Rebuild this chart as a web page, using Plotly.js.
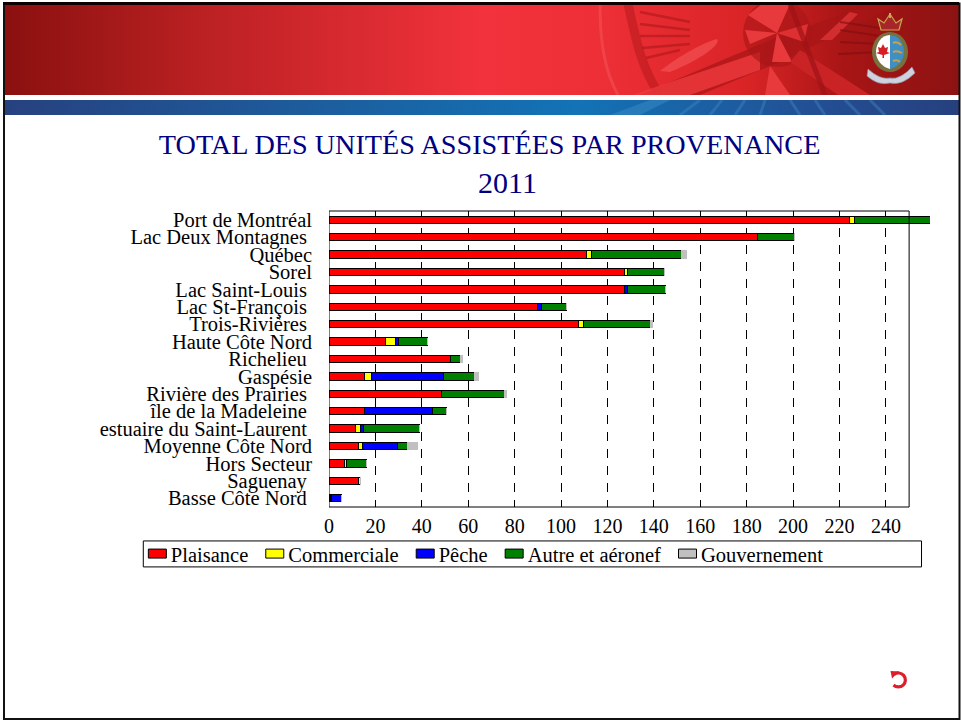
<!DOCTYPE html>
<html lang="fr">
<head>
<meta charset="utf-8">
<script src="https://cdn.plot.ly/plotly-3.0.1.min.js"></script>
<style>
html,body{margin:0;padding:0;background:#fff;width:961px;height:721px;overflow:hidden}
#deco{position:absolute;left:0;top:0}
#chart{position:absolute;left:0;top:0;width:961px;height:721px}
</style>
</head>
<body>
<svg id="deco" width="961" height="721" viewBox="0 0 961 721">
  <defs>
    <linearGradient id="red" x1="0" x2="1" y1="0" y2="0">
      <stop offset="0" stop-color="#8a100f"/><stop offset="0.2" stop-color="#b92022"/>
      <stop offset="0.5" stop-color="#f2323c"/><stop offset="0.62" stop-color="#ee2f37"/>
      <stop offset="0.78" stop-color="#d92426"/><stop offset="0.88" stop-color="#a81515"/><stop offset="1" stop-color="#8c1212"/>
    </linearGradient>
    <linearGradient id="blue" x1="0" x2="1" y1="0" y2="0">
      <stop offset="0" stop-color="#27417f"/><stop offset="0.35" stop-color="#1c5f9f"/>
      <stop offset="0.6" stop-color="#1273b6"/><stop offset="0.85" stop-color="#234f94"/><stop offset="1" stop-color="#26407e"/>
    </linearGradient>
    <clipPath id="rc"><rect x="4" y="4" width="955" height="91"/></clipPath>
    <clipPath id="bc"><rect x="4" y="100" width="955" height="15"/></clipPath>
  </defs>
  <rect x="4" y="4" width="955" height="91" fill="url(#red)"/>
  <g clip-path="url(#rc)">
    <path d="M628 4C636 40 642 70 660 95" fill="none" stroke="#b51a1c" stroke-opacity=".55" stroke-width="9"/>
    <path d="M600 4C600 40 604 70 618 95" fill="none" stroke="#f8686c" stroke-opacity=".35" stroke-width="3"/>
    <path d="M640 12L690 22M640 24L690 30M640 36L690 36M642 48L690 44M646 58L680 50" stroke="#a81618" stroke-opacity=".55" stroke-width="2.5"/>
    <path d="M640 95L770 40L870 4L900 4L780 62L700 95Z" fill="#a81517" fill-opacity=".7"/>
    <path d="M660 71C680 55 705 42 717 39C722 44 700 60 670 72Z" fill="#ef4a4c" fill-opacity=".85"/>
    <path d="M632 95L760 52L760 70L690 95Z" fill="#ee3a3d" fill-opacity=".8"/>
    <circle cx="777" cy="33" r="34" fill="#a81517" fill-opacity=".6"/>
    <path d="M777 33L748 15L762 4L790 4Z" fill="#e83a3d"/>
    <path d="M777 33L745 30L750 44Z" fill="#e83a3d"/>
    <path d="M777 33L792 62L772 62Z" fill="#e83a3d"/>
    <path d="M777 33L808 24L804 42Z" fill="#de3033"/>
    <path d="M770 66L790 95L765 95Z" fill="#e83a3d"/>
    <path d="M820 40L850 12L858 14L832 40Z" fill="#dc3336" fill-opacity=".8"/>
    <path d="M800 50L870 95L838 95L790 62Z" fill="#c92326"/>
    <path d="M790 4L800 30L825 95" fill="none" stroke="#9e1315" stroke-width="5" stroke-opacity=".7"/>
    <path d="M840 30L880 36M840 42L880 44M838 54L880 52M840 22L880 28" stroke="#7e0e10" stroke-opacity=".6" stroke-width="2"/>
  </g>
  <rect x="4" y="95" width="955" height="5" fill="#fff"/>
  <rect x="4" y="100" width="955" height="15" fill="url(#blue)"/>
  <g clip-path="url(#bc)" stroke="#3d84bd" stroke-opacity=".45" fill="none">
    <path d="M610 115L650 100L670 100L640 115Z" fill="#3a8bc6" fill-opacity=".5" stroke="none"/>
    <path d="M680 115L700 100M710 115L722 100M735 115L745 100M760 115L765 100M790 100L800 115M815 100L825 115M845 100L860 115M870 100L885 115" stroke-width="3"/>
  </g>
  <!-- armoiries -->
  <g transform="translate(890,52)">
    <path d="M-9-22H9L12-33L6-29L0-38L-6-29L-12-33Z" fill="#a8252a" stroke="#c8a850" stroke-width="1.2"/>
    <rect x="-1" y="-39" width="2" height="5" fill="#c8a850"/>
    <ellipse cx="0" cy="0" rx="18" ry="20" fill="#77703f"/>
    <path d="M0-17C-9-17-14-8-14 0C-14 8-8 15 0 17Z" fill="#fff"/>
    <path d="M0-17C9-17 14-8 14 0C14 8 8 15 0 17Z" fill="#3f8fc4"/>
    <path d="M-7-7L-5-3L-2-4L-3 1L0 2L-3 3L-6 4V7H-7.5V4L-11 3L-14 2L-11 1L-12-4L-9-3Z" transform="translate(0,-1)" fill="#d41f26"/>
    <path d="M3-9Q7-11 11-7M3 0Q7-2 12 1M3 9Q7 7 10 10" stroke="#c9a24a" stroke-width="2" fill="none"/>
    <path d="M-22 17Q-10 28 0 26Q10 28 22 15L25 21Q12 34 0 31Q-12 34-23 24Z" fill="#cfd2dc" stroke="#8b8fa6" stroke-width=".7"/>
  </g>
  <path d="M894 674.5A7 7 0 1 1 893.5 685" fill="none" stroke="#dc1f2b" stroke-width="3.2"/>
  <path d="M890.5 671L899 671.5L892 678.5Z" fill="#dc1f2b"/>
  <!-- cadre -->
  <path d="M4 3.5H959.5V719H4Z" fill="none" stroke="#111" stroke-width="2"/>
  <rect x="3" y="2" width="956" height="3" fill="#0c0000"/>
</svg>
<div id="chart"></div>
<script>
// Catégories de provenance (de haut en bas)
const categories = ["Port de Montréal","Lac Deux Montagnes\u00a0","Québec","Sorel","Lac Saint-Louis\u00a0","Lac St-François\u00a0","Trois-Rivières\u00a0","Haute Côte Nord","Richelieu\u00a0","Gaspésie","Rivière des Prairies\u00a0","île de la Madeleine\u00a0","estuaire du Saint-Laurent\u00a0","Moyenne Côte Nord","Hors Secteur","Saguenay\u00a0","Basse Côte Nord\u00a0"];
const plaisance    = [224.5,184.5,111,127.5,127.5,90,107.5,24.5,52.5,15.5,48.5,15.5,11.5,12.5,6.5,12.5,0.5];
const commerciale  = [2,0,2,1,0,0,2,4,0,3,0,0,2,2,1,1,0.5];
const peche        = [0,0,0,0,1,1.5,0,1.5,0,31,0,29,1.5,15,0,0,4.5];
const autre        = [32.5,16,39,16,16.5,11,29,12.5,4,13,27,6,24,4.5,8.5,0,0];
const gouvernement = [0,0,2,0,0,0,1,0,1,2,1,0,0,4,0,0,0];
const tickValues = [0,20,40,60,80,100,120,140,160,180,200,220,240];

const seriesNames = ["Plaisance","Commerciale","Pêche","Autre et aéronef","Gouvernement"];
const seriesValues = [plaisance,commerciale,peche,autre,gouvernement];
const seriesColors = ["#ff0000","#ffff00","#0000ff","#008000","#c0c0c0"];

const traces = seriesNames.map((name,i)=>({
  type:"bar", orientation:"h", name, y:categories, x:seriesValues[i],
  width:0.42, hoverinfo:"x+name",
  marker:{color:seriesColors[i], line:{color:i===4?"#c0c0c0":"#000000", width:1}}
}));

const serif = "'Liberation Serif','Times New Roman',serif";
const layout = {
  width:961, height:721, paper_bgcolor:"rgba(0,0,0,0)", plot_bgcolor:"rgba(0,0,0,0)",
  barmode:"stack", bargap:0.58, showlegend:true,
  margin:{l:328.5,r:30.5,t:210.5,b:214,pad:0},
  font:{family:serif,size:20,color:"#000"},
  title:{text:"TOTAL DES UNITÉS ASSISTÉES PAR PROVENANCE",
    font:{family:serif,size:28.2,color:"#000080"},x:0.5095,xanchor:"center",y:0.8,yanchor:"middle"},
  annotations:[{text:"2011",xref:"paper",yref:"paper",x:0.2965,y:1.096,xanchor:"center",yanchor:"middle",
    showarrow:false,font:{family:serif,size:30,color:"#000080"}}],
  xaxis:{range:[0,259],tickvals:tickValues,ticks:"",showline:false,
    showgrid:true,gridcolor:"#000",gridwidth:1,griddash:"9px,8px",zeroline:false,
    tickfont:{family:serif,size:20},ticklabelstandoff:5},
  yaxis:{autorange:"reversed",type:"category",dtick:1,ticks:"",showline:false,
    showgrid:false,automargin:false,tickfont:{family:serif,size:20.5},ticklabelstandoff:16},
  legend:{orientation:"h",x:-0.3297,xanchor:"left",y:-0.158,yanchor:"middle",
    bgcolor:"rgba(0,0,0,0)",borderwidth:0,traceorder:"normal",font:{family:serif,size:20.5},itemclick:false,itemdoubleclick:false},
  shapes:[
    {type:"rect",xref:"paper",yref:"paper",layer:"below",
     x0:-0.309,x1:0.9859,y0:-0.2024,y1:-0.1147,line:{color:"#000",width:1},fillcolor:"#fff"},
    {type:"rect",xref:"x",yref:"paper",layer:"above",
     x0:0,x1:250,y0:0,y1:1,line:{color:"#000",width:1},fillcolor:"rgba(0,0,0,0)"}
  ]
};
Plotly.newPlot("chart",traces,layout,{staticPlot:true,displayModeBar:false}).then(()=>{
  // pastilles de légende plus larges que hautes, et entrées plus serrées, comme l'original
  document.querySelectorAll("#chart .legend .legendundefined").forEach(p=>{
    p.setAttribute("d","M15.5,4.5H-2.5V-4.5H15.5Z");
    p.style.stroke="#000"; p.style.strokeWidth="1px";
  });
  document.querySelectorAll("#chart .legend .traces").forEach((g,i)=>{
    const m=/translate\(([-\d.]+),\s*([-\d.]+)\)/.exec(g.getAttribute("transform")||"");
    if(m) g.setAttribute("transform","translate("+(parseFloat(m[1])-5*i)+","+m[2]+")");
  });
});
</script>
</body>
</html>
